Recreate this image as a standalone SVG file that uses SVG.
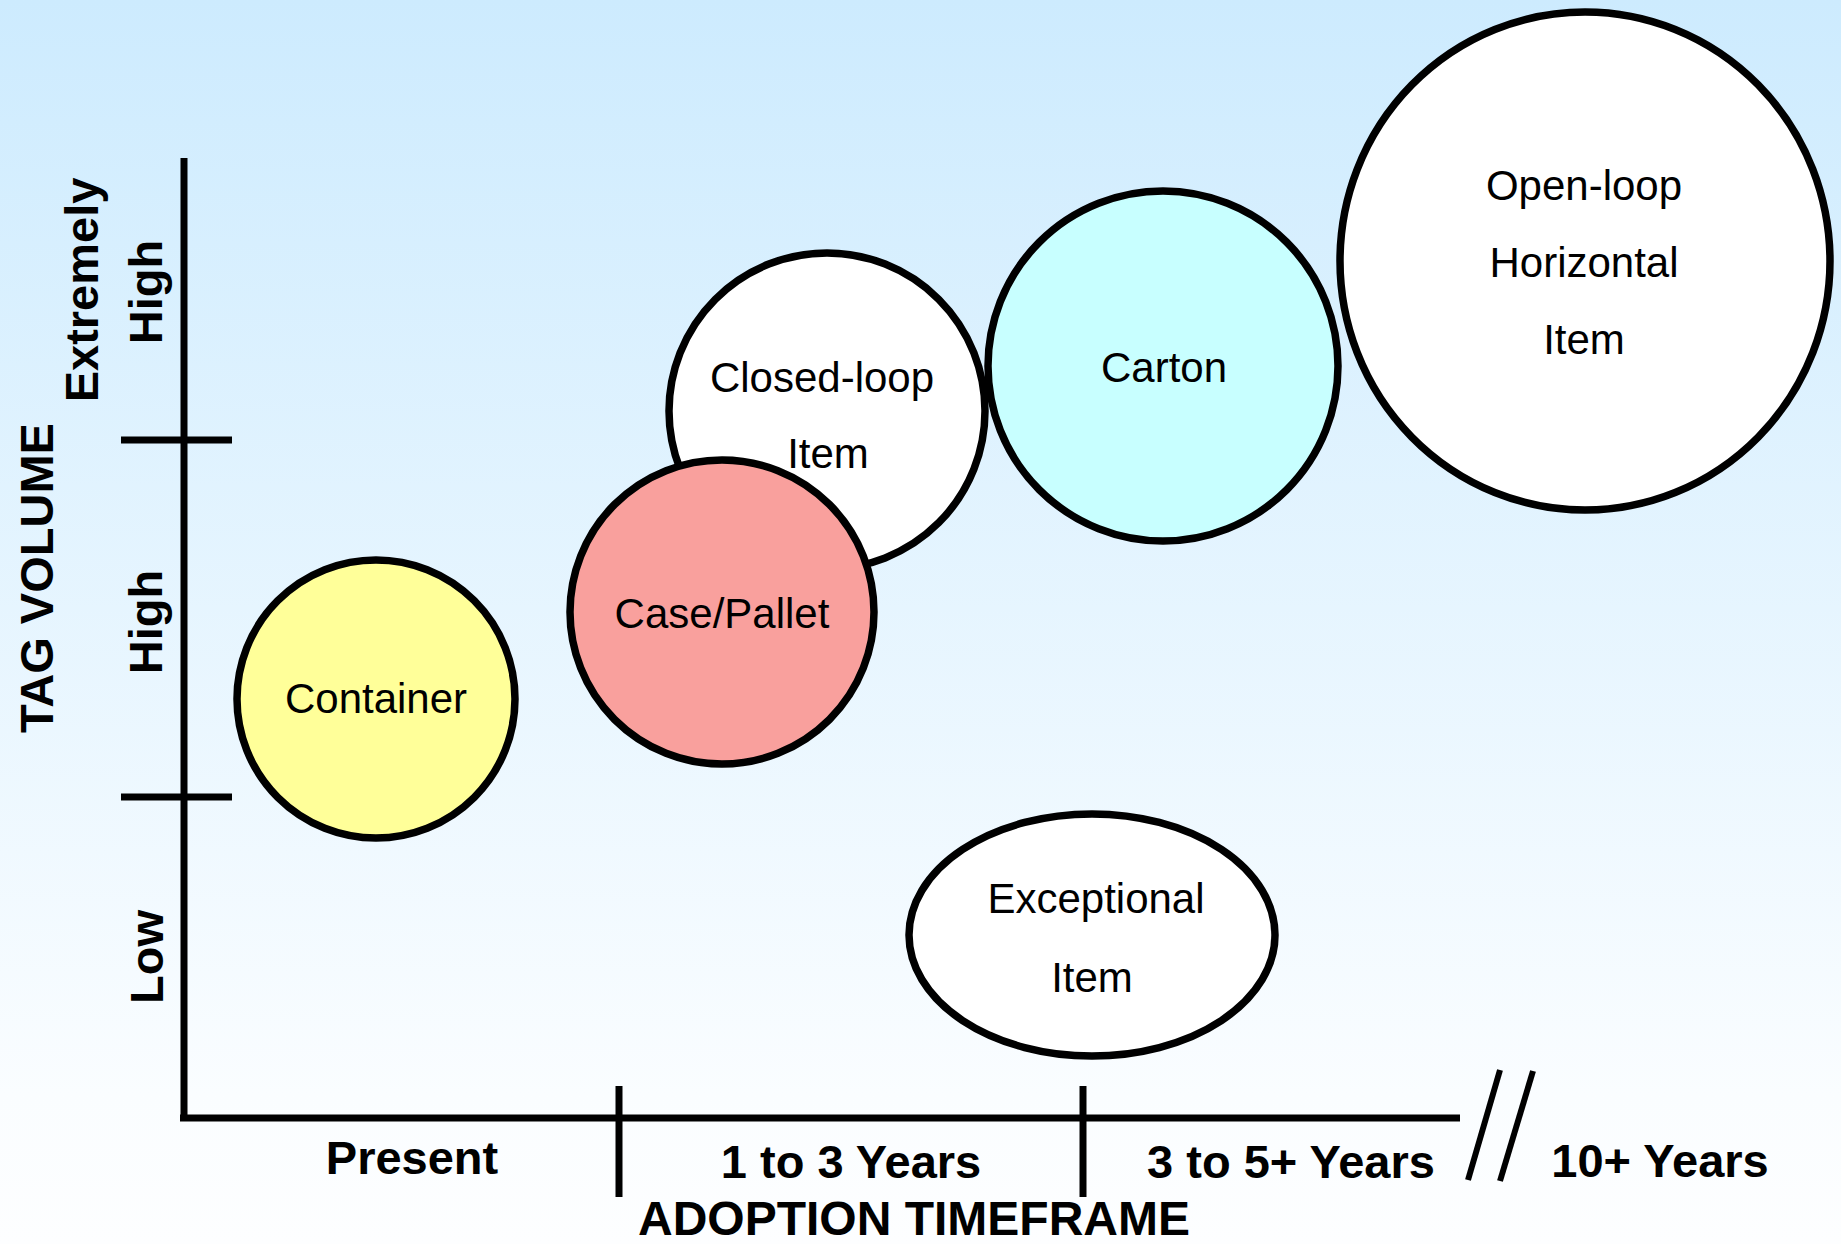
<svg xmlns="http://www.w3.org/2000/svg" width="1841" height="1244" viewBox="0 0 1841 1244">
<defs>
<linearGradient id="bg" x1="0" y1="0" x2="0" y2="1">
<stop offset="0" stop-color="#CDEBFE"/>
<stop offset="0.88" stop-color="#FAFDFF"/>
<stop offset="1" stop-color="#FDFEFF"/>
</linearGradient>
<style>
.ax{stroke:#000;stroke-width:7;fill:none}
.bub{stroke:#000;stroke-width:7.5}
.lbl{font-family:"Liberation Sans",Arial,sans-serif;font-size:42px;fill:#000;text-anchor:middle}
.axl{font-family:"Liberation Sans",Arial,sans-serif;font-size:47px;font-weight:bold;fill:#000;text-anchor:middle}
</style>
</defs>
<rect x="0" y="0" width="1841" height="1244" fill="url(#bg)"/>

<g id="connectors">
<line class="ax" x1="184" y1="158" x2="184" y2="1121"/>
<line class="ax" x1="180" y1="1118" x2="1460" y2="1118"/>
<line class="ax" x1="121" y1="440" x2="232" y2="440"/>
<line class="ax" x1="121" y1="797" x2="232" y2="797"/>
<line class="ax" x1="619" y1="1086" x2="619" y2="1197"/>
<line class="ax" x1="1083" y1="1086" x2="1083" y2="1197"/>
<line class="ax" x1="1500" y1="1070" x2="1468" y2="1180" style="stroke-width:6"/>
<line class="ax" x1="1533" y1="1071" x2="1500" y2="1181" style="stroke-width:6"/>
</g>

<g id="axis-labels">
<text class="axl" transform="translate(53,578) rotate(-90)">TAG VOLUME</text>
<text class="axl" transform="translate(98,290) rotate(-90)">Extremely</text>
<text class="axl" transform="translate(162,292) rotate(-90)">High</text>
<text class="axl" transform="translate(162,622) rotate(-90)">High</text>
<text class="axl" transform="translate(163,957) rotate(-90)">Low</text>
<text class="axl" x="412" y="1174">Present</text>
<text class="axl" x="851" y="1178">1 to 3 Years</text>
<text class="axl" x="1291" y="1178">3 to 5+ Years</text>
<text class="axl" x="1660" y="1177">10+ Years</text>
<text class="axl" x="914" y="1235" style="font-size:48px">ADOPTION TIMEFRAME</text>
</g>

<g id="node-container">
<circle class="bub" cx="376" cy="699" r="139" fill="#FFFF99"/>
<text class="lbl" x="376" y="713">Container</text>
</g>

<g id="node-closed-loop">
<circle class="bub" cx="827" cy="411" r="158" fill="#FFFFFF"/>
<text class="lbl" x="822" y="392">Closed-loop</text>
<text class="lbl" x="828" y="468">Item</text>
</g>

<g id="node-case-pallet">
<circle class="bub" cx="722" cy="612" r="152" fill="#F9A09D"/>
<text class="lbl" x="722" y="628">Case/Pallet</text>
</g>

<g id="node-carton">
<circle class="bub" cx="1163" cy="366" r="175" fill="#C8FFFF"/>
<text class="lbl" x="1164" y="382">Carton</text>
</g>

<g id="node-open-loop">
<ellipse class="bub" cx="1585" cy="261" rx="245" ry="249" fill="#FFFFFF"/>
<text class="lbl" x="1584" y="200">Open-loop</text>
<text class="lbl" x="1584" y="277">Horizontal</text>
<text class="lbl" x="1584" y="354">Item</text>
</g>

<g id="node-exceptional">
<ellipse class="bub" cx="1092" cy="935" rx="183" ry="121" fill="#FFFFFF"/>
<text class="lbl" x="1096" y="913">Exceptional</text>
<text class="lbl" x="1092" y="992">Item</text>
</g>
</svg>
